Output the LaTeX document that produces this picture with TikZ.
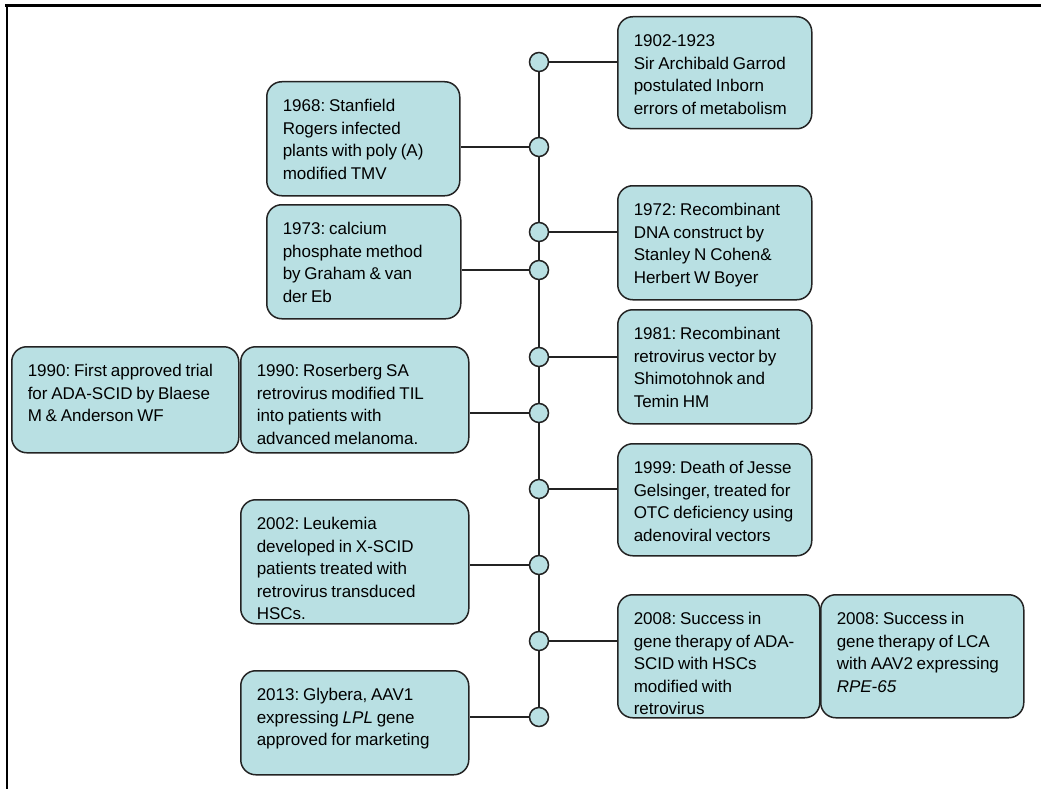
\documentclass[tikz,border=0pt]{standalone}
\usepackage{fontspec}
\setmainfont{Liberation Sans}[WordSpace=0.8]
\usepackage{tikz}
\usetikzlibrary{calc}

\definecolor{evtfill}{RGB}{185,224,227}
\definecolor{evtline}{RGB}{35,35,35}
\frenchspacing
\hyphenpenalty=10000

\begin{document}
\begin{tikzpicture}[x=1pt,y=-1pt,
	event/.style={draw=evtline,fill=evtfill,line width=1.5pt,rounded corners=15pt,anchor=north west,
		align=flush left,inner xsep=16pt,inner ysep=18pt,text height=12.2pt,
		font=\fontsize{17}{22.4}\selectfont},
	dot/.style={draw=evtline,fill=evtfill,line width=1.5pt,shape=circle,minimum size=19pt,inner sep=0pt},
	link/.style={draw=evtline,line width=1.5pt}]
	\useasboundingbox (0,0) rectangle (1041,789);
	% frame
	\draw[line width=3pt] (5,5.5) -- (1041,5.5);
	\draw[line width=2.2pt] (7,5.5) -- (7,789);
	% time line
	\node (c1) [dot] at (539,62) {};
	\node (c2) [dot] at (539,147) {};
	\node (c3) [dot] at (539,232) {};
	\node (c4) [dot] at (539,270) {};
	\node (c5) [dot] at (539,357) {};
	\node (c6) [dot] at (539,413) {};
	\node (c7) [dot] at (539,489) {};
	\node (c8) [dot] at (539,565) {};
	\node (c9) [dot] at (539,641) {};
	\node (c10) [dot] at (539,717) {};
	\foreach \a/\b in {c1/c2,c2/c3,c3/c4,c4/c5,c5/c6,c6/c7,c7/c8,c8/c9,c9/c10}
		\draw[link] (\a) -- (\b);
	% events
	\node (e1902) [event,text width=162pt,text depth=63.8pt] at (617,16)
		{1902-1923\\Sir Archibald Garrod\\postulated Inborn\\errors of metabolism};
	\node (e1968) [event,text width=161pt,text depth=65.8pt] at (266,81)
		{1968: Stanfield\\Rogers infected\\plants with poly (A)\\modified TMV};
	\node (e1972) [event,text width=162pt,text depth=65.8pt] at (617,185)
		{1972: Recombinant\\DNA construct by\\Stanley N Cohen\&\\Herbert W Boyer};
	\node (e1973) [event,text width=162pt,text depth=65.8pt] at (266,204)
		{1973: calcium\\phosphate method\\by Graham \& van\\der Eb};
	\node (e1981) [event,text width=162pt,text depth=65.8pt] at (617,309)
		{1981: Recombinant\\retrovirus vector by\\Shimotohnok and\\Temin HM};
	\node (e1990a) [event,text width=195pt,text depth=57.8pt] at (11,346)
		{1990: First approved trial\\for ADA-SCID by Blaese\\M \& Anderson WF};
	\node (e1990b) [event,text width=196pt,text depth=57.8pt] at (240,346)
		{1990: Roserberg SA\\retrovirus modified TIL\\into patients with\\advanced melanoma.};
	\node (e1999) [event,text width=162pt,text depth=63.8pt] at (617,443)
		{1999: Death of Jesse\\Gelsinger, treated for\\OTC deficiency using\\adenoviral vectors};
	\node (e2002) [event,text width=196pt,text depth=75.8pt] at (240,499)
		{2002: Leukemia\\developed in X-SCID\\patients treated with\\retrovirus transduced\\HSCs.};
	\node (e2008a) [event,text width=170pt,text depth=74.8pt] at (617,594)
		{2008: Success in\\gene therapy of ADA-\\SCID with HSCs\\modified with\\retrovirus};
	\node (e2008b) [event,text width=171pt,text depth=74.8pt] at (820,594)
		{2008: Success in\\gene therapy of LCA\\with AAV2 expressing\\\textit{RPE-65}};
	\node (e2013) [event,text width=196pt,text depth=55.8pt] at (240,670)
		{2013: Glybera, AAV1\\expressing \textit{LPL} gene\\approved for marketing};
	% links to the time line
	\draw[link] (c1) -- (c1 -| e1902.west);
	\draw[link] (c2) -- (c2 -| e1968.east);
	\draw[link] (c3) -- (c3 -| e1972.west);
	\draw[link] (c4) -- (c4 -| e1973.east);
	\draw[link] (c5) -- (c5 -| e1981.west);
	\draw[link] (c6) -- (c6 -| e1990b.east);
	\draw[link] (c7) -- (c7 -| e1999.west);
	\draw[link] (c8) -- (c8 -| e2002.east);
	\draw[link] (c9) -- (c9 -| e2008a.west);
	\draw[link] (c10) -- (c10 -| e2013.east);
\end{tikzpicture}
\end{document}
